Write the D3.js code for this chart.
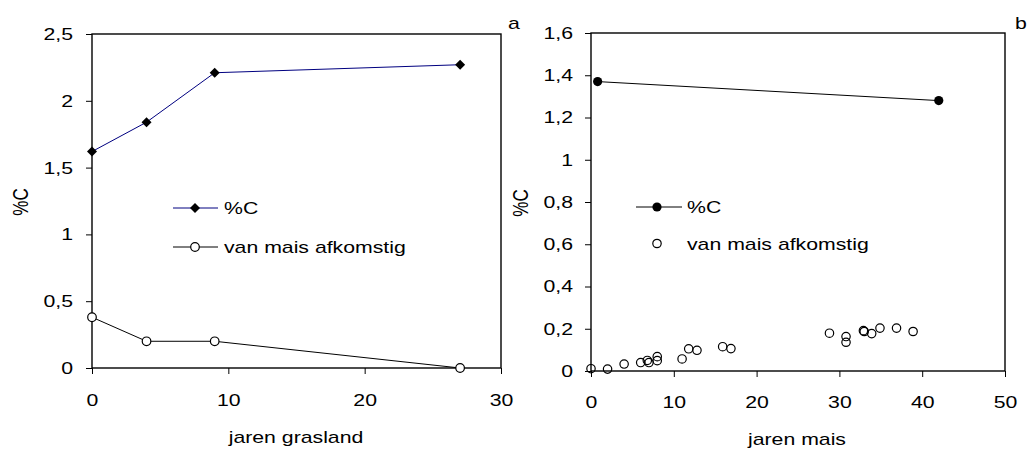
<!DOCTYPE html>
<html>
<head>
<meta charset="utf-8">
<script src="https://cdn.jsdelivr.net/npm/d3@7"></script>
<style>
	body { margin: 0; background: #fff; }
	svg text { font-family: 'Liberation Sans', Arial, sans-serif; font-size: 17px; fill: #000; }
</style>
</head>
<body>
<svg id="chart" width="1027" height="450"></svg>
<script>
// panel a: grasland
var grasYears = [0, 4, 9, 27];
var grasC = [1.62, 1.84, 2.21, 2.27];
var grasMais = [0.38, 0.20, 0.20, 0.00];
var grasXTicks = [0, 10, 20, 30];
var grasYTicks = [0, 0.5, 1, 1.5, 2, 2.5];

// panel b: mais
var maisCYears = [0.8, 42];
var maisC = [1.37, 1.28];
var maisYears = [0, 2, 4, 6, 6.8, 7, 8, 8, 11, 11.8, 12.8, 15.9, 16.9, 28.8, 30.8, 30.8, 32.9, 33, 33.9, 34.9, 36.9, 38.9];
var maisFrac = [0.011, 0.009, 0.033, 0.04, 0.05, 0.04, 0.068, 0.049, 0.057, 0.105, 0.098, 0.115, 0.106, 0.179, 0.163, 0.136, 0.191, 0.187, 0.177, 0.203, 0.203, 0.187];
var maisXTicks = [0, 10, 20, 30, 40, 50];
var maisYTicks = [0, 0.2, 0.4, 0.6, 0.8, 1, 1.2, 1.4, 1.6];

var svg = d3.select('svg#chart');
var sx = 1.25; // the original text is drawn wide

function comma(d) {
	return String(d).replace('.', ',');
}

function stretch(sel) {
	sel.each(function () {
		var t = d3.select(this);
		var x = +t.attr('x') || 0, y = +t.attr('y') || 0;
		t.attr('transform', 'translate(' + x + ',' + y + ') scale(' + sx + ',1)')
			.attr('x', 0).attr('y', 0);
	});
}

function label(x, y, txt, anchor) {
	svg.append('text')
		.attr('x', x).attr('y', y)
		.style('text-anchor', anchor || 'start')
		.text(txt)
		.call(stretch);
}

function frame(xScale, yScale, xTicks, yTicks, xBase, yEdge) {
	var r = xScale.range(), h = yScale.range();
	svg.append('rect')
		.attr('x', r[0]).attr('y', h[1])
		.attr('width', r[1] - r[0]).attr('height', h[0] - h[1])
		.style('fill', 'none').style('stroke', '#000').style('stroke-width', 1.4);

	var gx = svg.append('g')
		.attr('transform', 'translate(0,' + h[0] + ')')
		.call(d3.axisBottom(xScale).tickValues(xTicks).tickSize(6).tickFormat(comma));
	gx.select('.domain').remove();
	gx.selectAll('text').attr('y', xBase).attr('dy', 0).style('font-size', '17px').call(stretch);

	var gy = svg.append('g')
		.attr('transform', 'translate(' + r[0] + ',0)')
		.call(d3.axisLeft(yScale).tickValues(yTicks).tickSize(6).tickFormat(comma));
	gy.select('.domain').remove();
	gy.selectAll('text').attr('x', yEdge).style('font-size', '17px').call(stretch);
	svg.selectAll('.tick line').style('stroke', '#000');
}

function yTitle(x, y) {
	svg.append('text')
		.attr('transform', 'translate(' + x + ',' + y + ') scale(' + sx + ',1) rotate(-90)')
		.style('text-anchor', 'middle')
		.text('%C');
}

var diamond = 'M0,-5L5,0L0,5L-5,0Z';

// ---- panel a ----
var xA = d3.scaleLinear().domain([0, 30]).range([92, 501]);
var yA = d3.scaleLinear().domain([0, 2.5]).range([368, 34]);
frame(xA, yA, grasXTicks, grasYTicks, 38, -19);

var lineA = d3.line()
	.x(function (d) { return xA(d[0]); })
	.y(function (d) { return yA(d[1]); });

svg.append('path')
	.attr('d', lineA(d3.zip(grasYears, grasMais)))
	.style('fill', 'none').style('stroke', '#000').style('stroke-width', 1);

svg.append('path')
	.attr('d', lineA(d3.zip(grasYears, grasC)))
	.style('fill', 'none').style('stroke', '#000080').style('stroke-width', 1);

svg.selectAll('circle.grasMais')
	.data(d3.zip(grasYears, grasMais))
	.enter()
	.append('circle')
	.attr('class', 'grasMais')
	.attr('cx', function (d) { return xA(d[0]); })
	.attr('cy', function (d) { return yA(d[1]); })
	.attr('r', 4.3)
	.style('fill', '#fff').style('stroke', '#000').style('stroke-width', 1.2);

svg.selectAll('path.grasC')
	.data(d3.zip(grasYears, grasC))
	.enter()
	.append('path')
	.attr('class', 'grasC')
	.attr('d', diamond)
	.attr('transform', function (d) {
		return 'translate(' + xA(d[0]) + ',' + yA(d[1]) + ')';
	})
	.style('fill', '#000');

// legend a
svg.append('line').attr('x1', 173).attr('x2', 218).attr('y1', 208).attr('y2', 208)
	.style('stroke', '#000080');
svg.append('path').attr('d', diamond).attr('transform', 'translate(195,208)').style('fill', '#000');
label(224, 214, '%C');
svg.append('line').attr('x1', 173).attr('x2', 218).attr('y1', 247).attr('y2', 247)
	.style('stroke', '#000');
svg.append('circle').attr('cx', 195).attr('cy', 247).attr('r', 4.3)
	.style('fill', '#fff').style('stroke', '#000').style('stroke-width', 1.2);
label(224, 253, 'van mais afkomstig');

yTitle(28, 202);
label(296, 443, 'jaren grasland', 'middle');
label(508, 29, 'a');

// ---- panel b ----
var xB = d3.scaleLinear().domain([0, 50]).range([591, 1005]);
var yB = d3.scaleLinear().domain([0, 1.6]).range([371, 33]);
frame(xB, yB, maisXTicks, maisYTicks, 37, -18);

var lineB = d3.line()
	.x(function (d) { return xB(d[0]); })
	.y(function (d) { return yB(d[1]); });

svg.append('path')
	.attr('d', lineB(d3.zip(maisCYears, maisC)))
	.style('fill', 'none').style('stroke', '#000').style('stroke-width', 1);

svg.selectAll('circle.maisC')
	.data(d3.zip(maisCYears, maisC))
	.enter()
	.append('circle')
	.attr('class', 'maisC')
	.attr('cx', function (d) { return xB(d[0]); })
	.attr('cy', function (d) { return yB(d[1]); })
	.attr('r', 4.6)
	.style('fill', '#000');

svg.selectAll('circle.maisFrac')
	.data(d3.zip(maisYears, maisFrac))
	.enter()
	.append('circle')
	.attr('class', 'maisFrac')
	.attr('cx', function (d) { return xB(d[0]); })
	.attr('cy', function (d) { return yB(d[1]); })
	.attr('r', 4.2)
	.style('fill', 'none').style('stroke', '#000').style('stroke-width', 1.2);

// legend b
svg.append('line').attr('x1', 636).attr('x2', 682).attr('y1', 207).attr('y2', 207)
	.style('stroke', '#000');
svg.append('circle').attr('cx', 657).attr('cy', 207).attr('r', 4.6).style('fill', '#000');
label(687, 213, '%C');
svg.append('circle').attr('cx', 657).attr('cy', 243.5).attr('r', 4.2)
	.style('fill', 'none').style('stroke', '#000').style('stroke-width', 1.2);
label(687, 250, 'van mais afkomstig');

yTitle(528, 203);
label(797, 445, 'jaren mais', 'middle');
label(1015, 29, 'b');
</script>
</body>
</html>
